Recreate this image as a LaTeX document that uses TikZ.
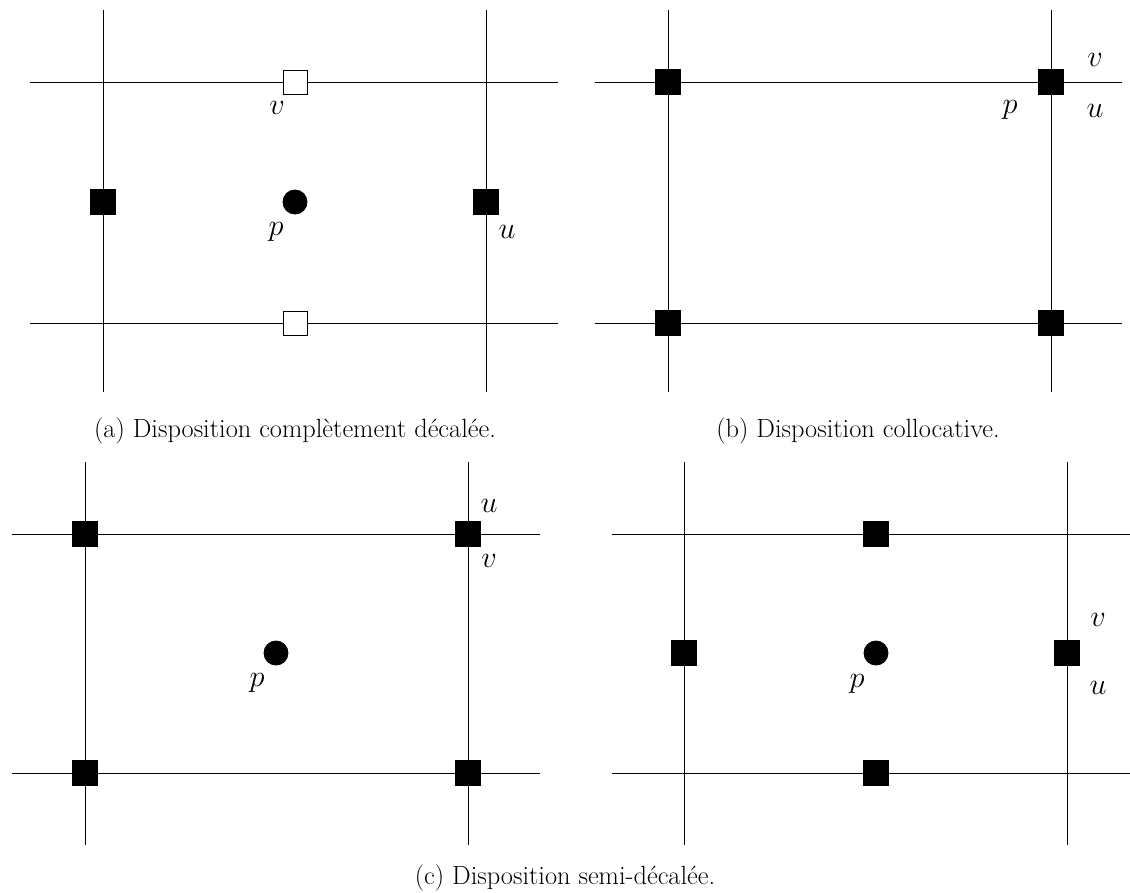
\documentclass[tikz,border=0pt]{standalone}
\usepackage{amsmath}
\usepackage{amssymb}
\usepackage{xcolor}
\usepackage{tikz}

\tikzset{
 full/.style={rectangle,draw,fill=black,minimum size=0.5cm,inner sep=0pt},
 hollow/.style={rectangle,draw,fill=white,minimum size=0.48cm,inner sep=0pt},
 dot/.style={circle,draw,fill=black,minimum size=0.48cm,inner sep=0pt},
 lab/.style={font=\fontsize{19}{22}\selectfont},
 legend/.style={font=\fontsize{15}{18}\selectfont}
}

\begin{document}
\begin{tikzpicture}[x=0.02cm,y=-0.02cm,line width=0.5pt]
\useasboundingbox (0,0) rectangle (1130,893);
%\draw[help lines] (0,0) grid (1130,893);
% (a) disposition completement decalee
\path (103,10) coordinate(a1) (103,392) coordinate(a2)
(486,10) coordinate(a3) (486,392) coordinate(a4)
(30,82) coordinate(a5) (558,82) coordinate(a6)
(30,323) coordinate(a7) (558,323) coordinate(a8);
\draw (a1) -- (a2);
\draw (a3) -- (a4);
\draw (a5) -- (a6);
\draw (a7) -- (a8);
\path (295,82) node(av1) [hollow] {}
(295,323) node(av2) [hollow] {}
(103,202) node(au1) [full] {}
(486,202) node(au2) [full] {}
(295,202) node(ap) [dot] {}
(277,108) node(lav) [lab] {$v$}
(276,232) node(lap) [lab] {$p$}
(507,232) node(lau) [lab] {$u$}
(295,431) node(capa) [legend] {(a) Disposition complètement décalée.};

% (b) disposition collocative
\path (668,10) coordinate(b1) (668,392) coordinate(b2)
(1051,10) coordinate(b3) (1051,392) coordinate(b4)
(595,82) coordinate(b5) (1122,82) coordinate(b6)
(595,323) coordinate(b7) (1122,323) coordinate(b8);
\draw (b1) -- (b2);
\draw (b3) -- (b4);
\draw (b5) -- (b6);
\draw (b7) -- (b8);
\path (668,82) node(bq1) [full] {}
(1051,82) node(bq2) [full] {}
(668,323) node(bq3) [full] {}
(1051,323) node(bq4) [full] {}
(1095,60) node(lbv) [lab] {$v$}
(1010,110) node(lbp) [lab] {$p$}
(1095,111) node(lbu) [lab] {$u$}
(858,431) node(capb) [legend] {(b) Disposition collocative.};

% (c) disposition semi-decalee, gauche
\path (85,462) coordinate(c1) (85,845) coordinate(c2)
(468,462) coordinate(c3) (468,845) coordinate(c4)
(12,534) coordinate(c5) (540,534) coordinate(c6)
(12,773) coordinate(c7) (540,773) coordinate(c8);
\draw (c1) -- (c2);
\draw (c3) -- (c4);
\draw (c5) -- (c6);
\draw (c7) -- (c8);
\path (85,534) node(cq1) [full] {}
(468,534) node(cq2) [full] {}
(85,773) node(cq3) [full] {}
(468,773) node(cq4) [full] {}
(276,653) node(cp) [dot] {}
(489,506) node(lcu) [lab] {$u$}
(489,561) node(lcv) [lab] {$v$}
(257,683) node(lcp) [lab] {$p$};

% (c) disposition semi-decalee, droite
\path (684,462) coordinate(d1) (684,845) coordinate(d2)
(1067,462) coordinate(d3) (1067,845) coordinate(d4)
(612,534) coordinate(d5) (1140,534) coordinate(d6)
(612,773) coordinate(d7) (1140,773) coordinate(d8);
\draw (d1) -- (d2);
\draw (d3) -- (d4);
\draw (d5) -- (d6);
\draw (d7) -- (d8);
\path (876,534) node(dq1) [full] {}
(876,773) node(dq2) [full] {}
(684,653) node(dq3) [full] {}
(1067,653) node(dq4) [full] {}
(876,653) node(dp) [dot] {}
(1098,620) node(ldv) [lab] {$v$}
(1098,688) node(ldu) [lab] {$u$}
(857,684) node(ldp) [lab] {$p$}
(565,878) node(capc) [legend] {(c) Disposition semi-décalée.};
\end{tikzpicture}
\end{document}
